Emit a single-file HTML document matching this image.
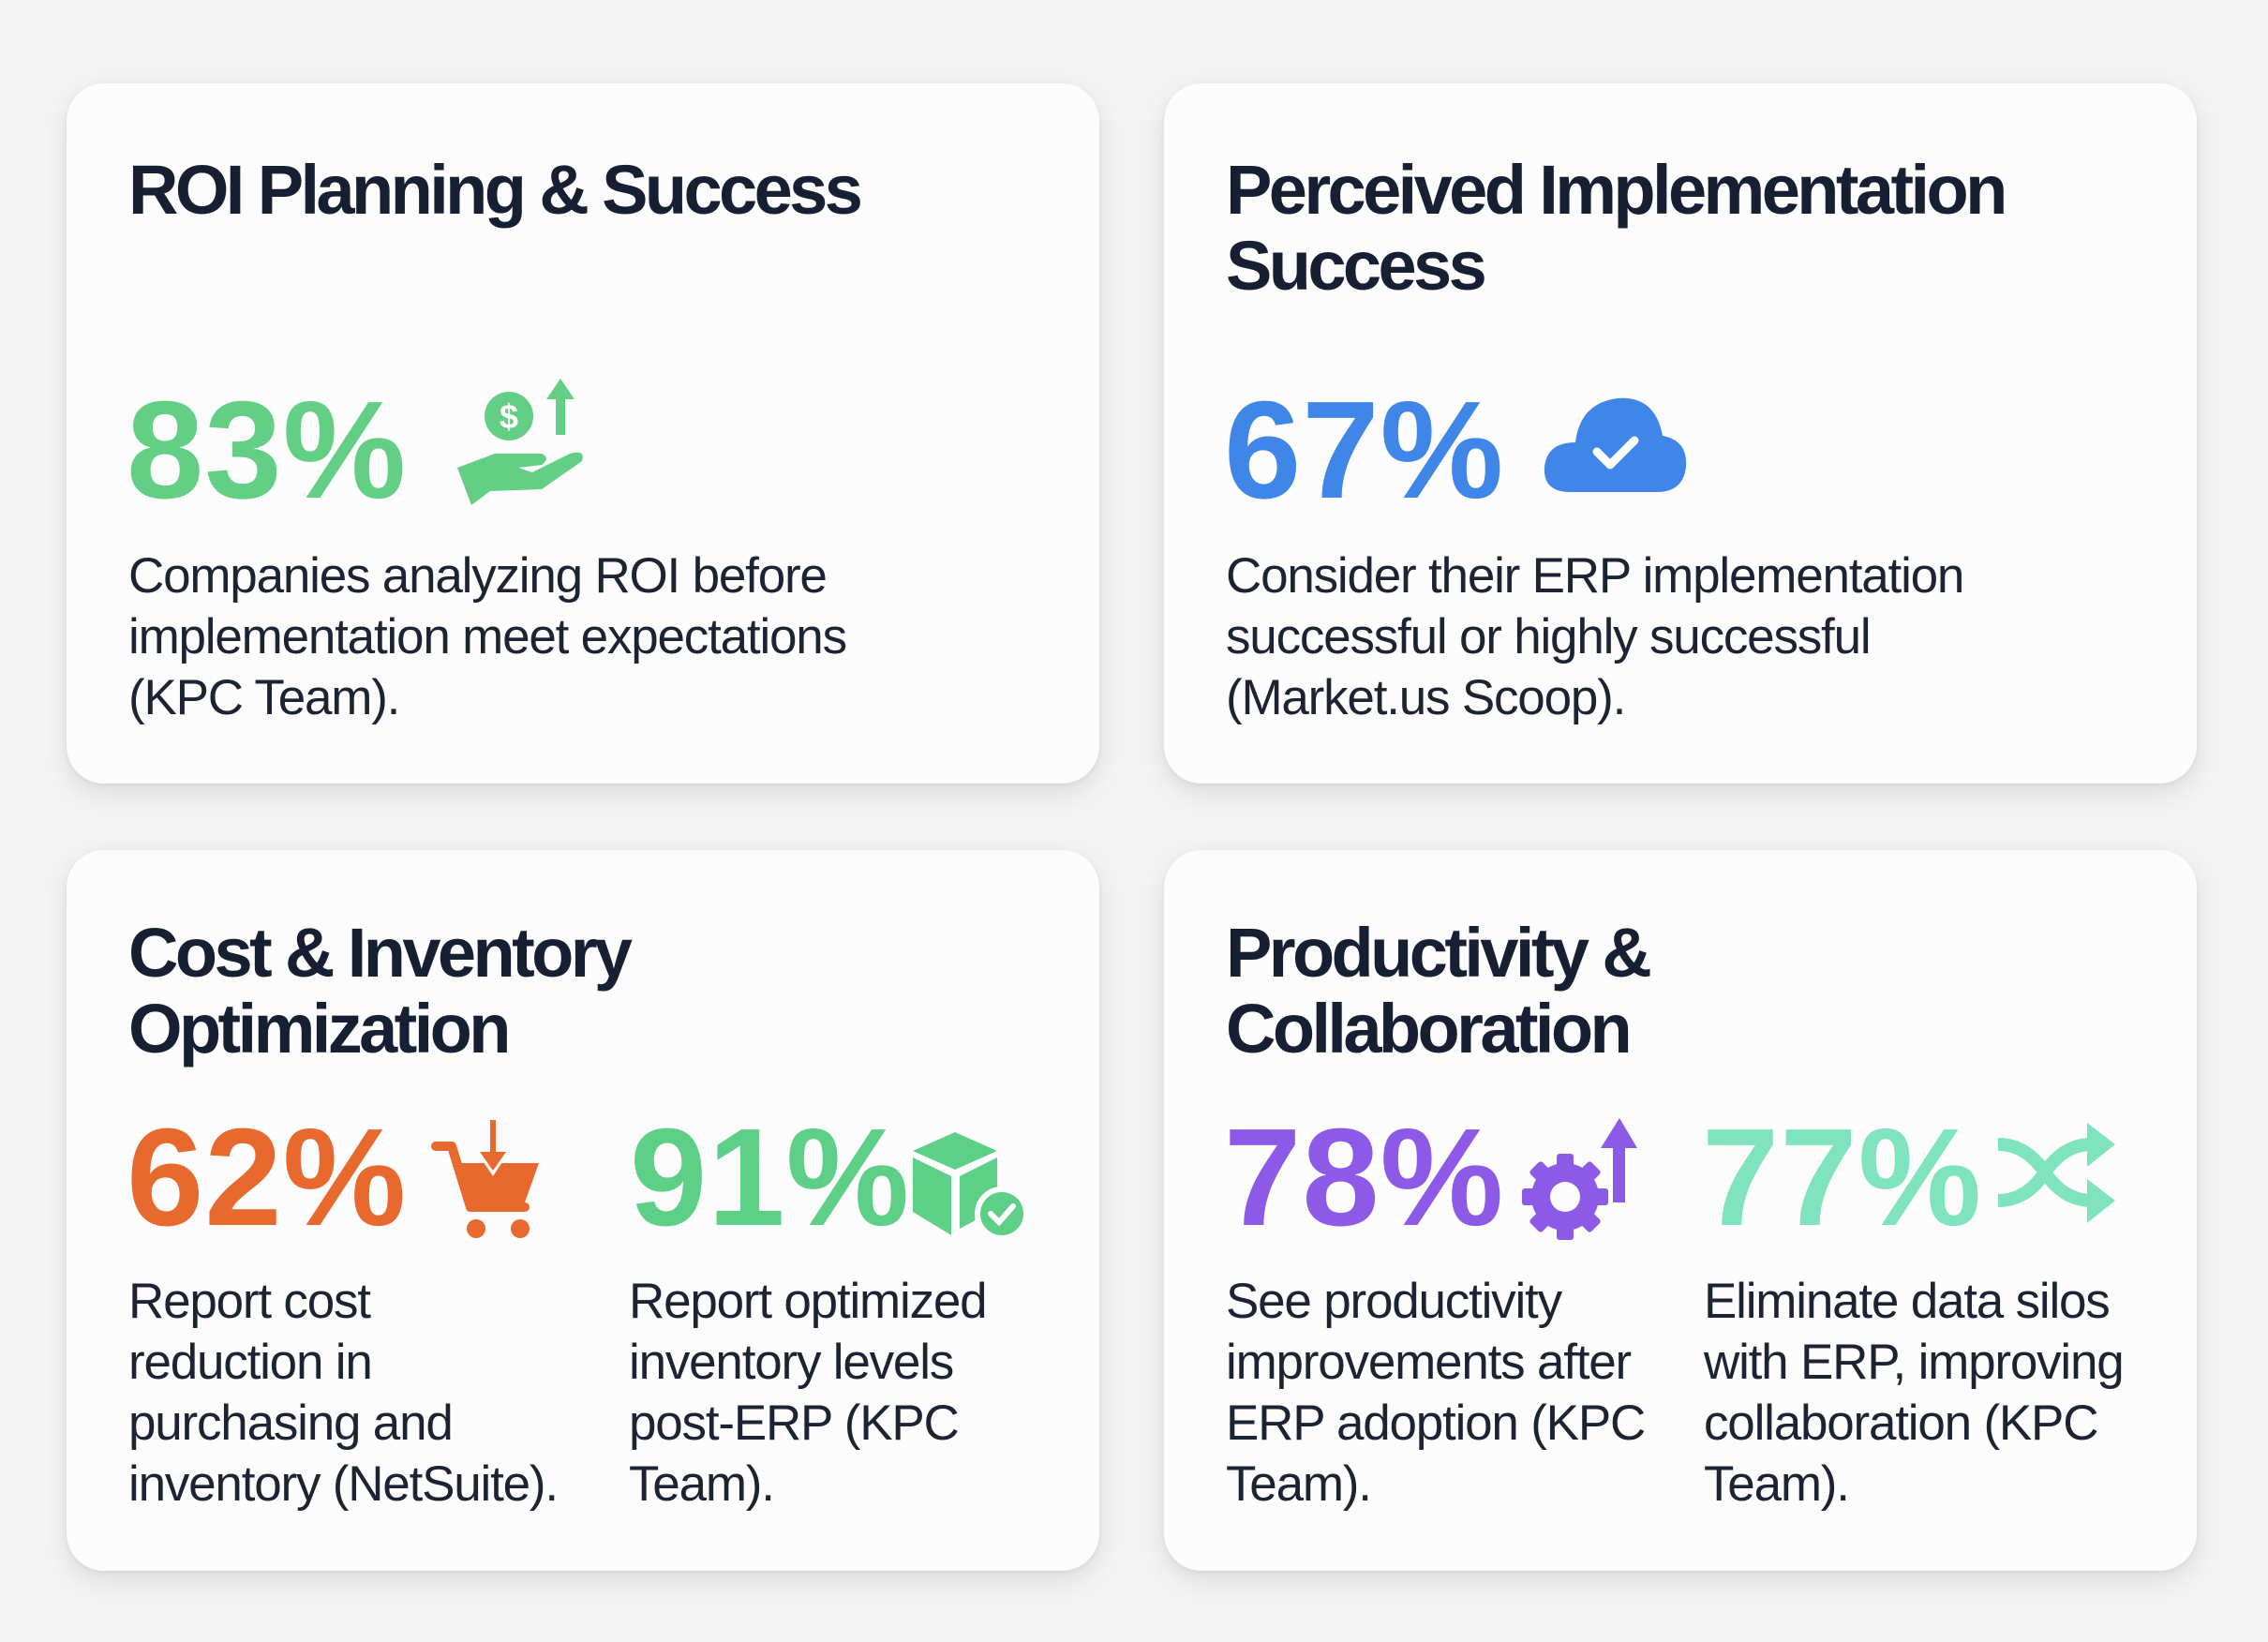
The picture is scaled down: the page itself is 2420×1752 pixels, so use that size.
<!DOCTYPE html>
<html><head><meta charset="utf-8"><style>
html,body{margin:0;padding:0}
body{width:2420px;height:1752px;background:#f4f4f4;position:relative;overflow:hidden;font-family:"Liberation Sans",Arial,sans-serif}
.card{position:absolute;background:#fcfcfc;border-radius:40px;box-shadow:0 10px 30px rgba(0,0,0,0.10),0 2px 6px rgba(0,0,0,0.06)}
.t{position:absolute;font-weight:bold;font-size:74px;line-height:81px;letter-spacing:-3.6px;color:#172033;white-space:nowrap}
.n{position:absolute;font-weight:bold;font-size:148px;line-height:148px;letter-spacing:1px;white-space:nowrap}
.b{position:absolute;font-size:53px;line-height:65px;letter-spacing:-1.2px;color:#1c2333;white-space:nowrap}
svg{position:absolute}
</style></head><body>
<div class="card" style="left:71px;top:89px;width:1102px;height:747px"></div>
<div class="card" style="left:1242px;top:89px;width:1102px;height:747px"></div>
<div class="card" style="left:71px;top:907px;width:1102px;height:769px"></div>
<div class="card" style="left:1242px;top:907px;width:1102px;height:769px"></div>

<div class="t" style="left:137px;top:162px">ROI Planning &amp; Success</div>
<div class="n" style="left:135px;top:407px;color:#62cf85">83%</div>
<svg style="left:483px;top:404px" width="145" height="135" viewBox="0 0 145 135">
<circle cx="60" cy="40" r="26" fill="#62cf85"/><text x="60" y="53" font-size="36" font-weight="bold" fill="#fff" text-anchor="middle" font-family="Liberation Sans">$</text>
<polygon points="115,0 100,22 110,22 110,60 120,60 120,22 130,22" fill="#62cf85"/>
<path d="M5 95 L45 80 L95 80 Q105 85 95 92 L70 95 L85 100 L125 80 Q142 75 138 88 L95 118 L40 120 L20 135 Z" fill="#62cf85"/>
</svg>
<div class="b" style="left:137px;top:582px">Companies analyzing ROI before<br>implementation meet expectations<br>(KPC Team).</div>

<div class="t" style="left:1308px;top:162px">Perceived Implementation<br>Success</div>
<div class="n" style="left:1306px;top:407px;color:#3f86e8">67%</div>
<svg style="left:1646px;top:420px" width="155" height="105" viewBox="0 0 155 105">
<path d="M30 105 Q0 105 2 78 Q5 52 35 52 Q40 10 80 5 Q120 2 128 45 Q155 50 153 78 Q150 105 122 105 Z" fill="#3f86e8"/>
<polyline points="58,62 72,76 98,50" fill="none" stroke="#fff" stroke-width="9" stroke-linecap="round" stroke-linejoin="round"/>
</svg>
<div class="b" style="left:1308px;top:582px">Consider their ERP implementation<br>successful or highly successful<br>(Market.us Scoop).</div>

<div class="t" style="left:137px;top:976px">Cost &amp; Inventory<br>Optimization</div>
<div class="n" style="left:135px;top:1183px;color:#e8692e">62%</div>
<svg style="left:460px;top:1193px" width="120" height="130" viewBox="0 0 120 130">
<path d="M5 30 L22 30 L42 95 L100 95" fill="none" stroke="#e8692e" stroke-width="10" stroke-linecap="round" stroke-linejoin="round"/>
<polygon points="25,48 115,48 100,90 38,90" fill="#e8692e"/>
<rect x="62" y="0" width="8" height="45" fill="#fcfcfc"/>
<polygon points="50,38 82,38 66,62" fill="#fcfcfc"/>
<rect x="63" y="2" width="6" height="40" fill="#e8692e"/>
<polygon points="52,36 80,36 66,56" fill="#e8692e"/>
<circle cx="48" cy="118" r="10" fill="#e8692e"/><circle cx="95" cy="118" r="10" fill="#e8692e"/>
</svg>
<div class="n" style="left:672px;top:1183px;color:#5ecf86">91%</div>
<svg style="left:969px;top:1193px" width="130" height="130" viewBox="0 0 130 130">
<polygon points="5,35 50,15 95,35 50,55" fill="#5ecf86"/>
<polygon points="5,42 46,62 46,125 5,100" fill="#5ecf86"/>
<polygon points="55,62 95,42 95,80 70,110 55,118" fill="#5ecf86"/>
<circle cx="100" cy="102" r="26" fill="#5ecf86" stroke="#fcfcfc" stroke-width="6"/>
<polyline points="88,102 97,111 112,94" fill="none" stroke="#fff" stroke-width="6" stroke-linecap="round"/>
</svg>
<div class="b" style="left:137px;top:1356px">Report cost<br>reduction in<br>purchasing and<br>inventory (NetSuite).</div>
<div class="b" style="left:671px;top:1356px">Report optimized<br>inventory levels<br>post-ERP (KPC<br>Team).</div>

<div class="t" style="left:1308px;top:976px">Productivity &amp;<br>Collaboration</div>
<div class="n" style="left:1306px;top:1183px;color:#8d5ae8">78%</div>
<svg style="left:1622px;top:1193px" width="135" height="135" viewBox="0 0 135 135">
<g fill="#8d5ae8"><circle cx="48" cy="84" r="36"/>
<rect x="39" y="38" width="18" height="92" rx="3"/><rect x="2" y="75" width="92" height="18" rx="3"/>
<rect x="39" y="38" width="18" height="92" rx="3" transform="rotate(45 48 84)"/><rect x="39" y="38" width="18" height="92" rx="3" transform="rotate(-45 48 84)"/>
<polygon points="106,0 86,32 99,32 99,90 112,90 112,32 125,32"/></g>
<circle cx="48" cy="84" r="16" fill="#fcfcfc"/>
</svg>
<div class="n" style="left:1816px;top:1183px;color:#7fe3bd">77%</div>
<svg style="left:2132px;top:1193px" width="125" height="125" viewBox="0 0 125 125">
<g fill="none" stroke="#7fe3bd" stroke-width="14">
<path d="M0 28 Q30 28 50 58 Q70 88 100 88"/><path d="M0 88 Q30 88 50 58 Q70 28 100 28"/></g>
<g fill="#7fe3bd"><polygon points="95,5 125,28 95,52"/><polygon points="95,65 125,88 95,112"/></g>
</svg>
<div class="b" style="left:1308px;top:1356px">See productivity<br>improvements after<br>ERP adoption (KPC<br>Team).</div>
<div class="b" style="left:1818px;top:1356px">Eliminate data silos<br>with ERP, improving<br>collaboration (KPC<br>Team).</div>
</body></html>
